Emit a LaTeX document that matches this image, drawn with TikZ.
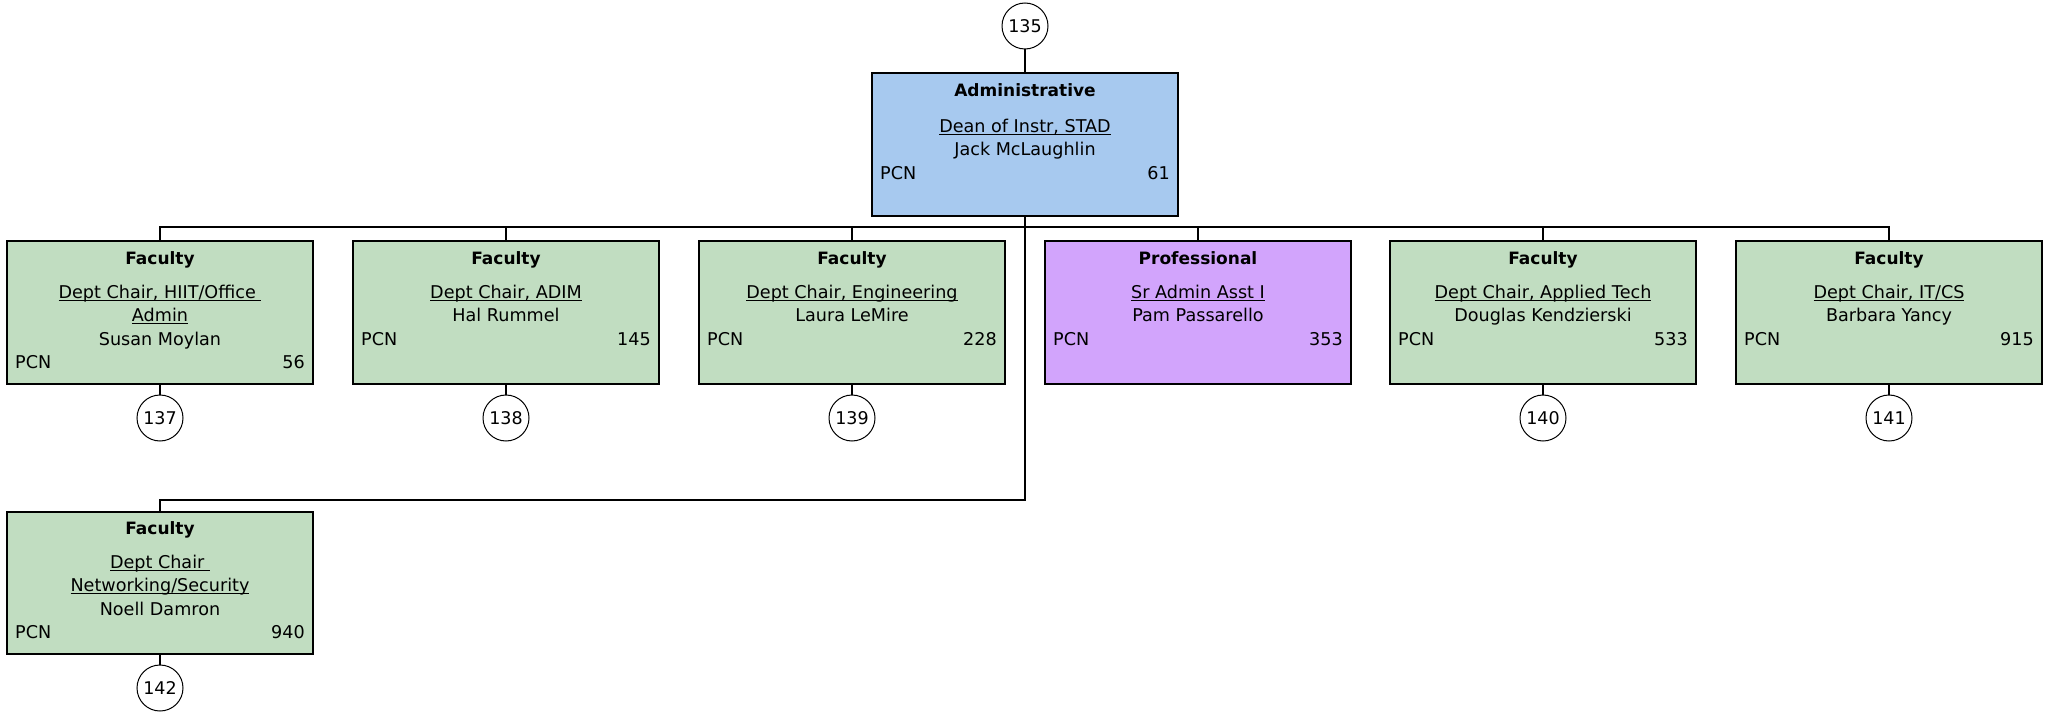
\documentclass[tikz,border=0pt]{standalone}
\usepackage{fontspec}
\setmainfont{DejaVu Sans}
\definecolor{admblue}{RGB}{167,201,239}
\definecolor{facgreen}{RGB}{193,221,193}
\definecolor{profpurple}{RGB}{210,164,252}
\newcommand\ulx[1]{\setbox0\hbox{#1}\rlap{\rule[-2.4bp]{\wd0}{1.1bp}}\box0}
\tikzset{
  orgbox/.style={draw=black, line width=2bp, minimum width=306bp, minimum height=142bp, inner sep=0pt},
  numcirc/.style={circle, draw=black, line width=1bp, fill=white, minimum size=46bp, inner sep=0pt, font=\fontsize{17.5bp}{19bp}\selectfont},
  ttl/.style={anchor=base, inner sep=0pt, font=\fontsize{17bp}{20bp}\selectfont\bfseries},
  txt/.style={anchor=base, inner sep=0pt, font=\fontsize{17.6bp}{20bp}\selectfont},
  lft/.style={anchor=base west, inner sep=0pt, font=\fontsize{17.6bp}{20bp}\selectfont},
  rgt/.style={anchor=base east, inner sep=0pt, font=\fontsize{17.6bp}{20bp}\selectfont},
  conn/.style={line width=2bp},
  stem/.style={line width=2bp}
}
\begin{document}
\begin{tikzpicture}[x=1bp,y=-1bp]
\useasboundingbox (0,0) rectangle (2049,720);
% boxes
\node[orgbox, fill=admblue, minimum height=143bp] (adm) at (1025,144.5) {};
\node[orgbox, fill=facgreen] (f1) at (160,312.5) {};
\node[orgbox, fill=facgreen] (f2) at (506,312.5) {};
\node[orgbox, fill=facgreen] (f3) at (852,312.5) {};
\node[orgbox, fill=profpurple] (p4) at (1198,312.5) {};
\node[orgbox, fill=facgreen] (f5) at (1543,312.5) {};
\node[orgbox, fill=facgreen] (f6) at (1889,312.5) {};
\node[orgbox, fill=facgreen] (f7) at (160,582.5) {};
% circles
\node[numcirc] (c135) at (1025,26) {135};
\node[numcirc] (c137) at (160,418) {137};
\node[numcirc] (c138) at (506,418) {138};
\node[numcirc] (c139) at (852,418) {139};
\node[numcirc] (c140) at (1543,418) {140};
\node[numcirc] (c141) at (1889,418) {141};
\node[numcirc] (c142) at (160,688) {142};
% connectors
\draw[conn] (c135) -- (adm.north);
\draw[conn] (f1.north) -- ++(0,-13) coordinate (busl) -| (f6.north);
\draw[conn] (f2.north) -- (f2.north |- busl);
\draw[conn] (f3.north) -- (f3.north |- busl);
\draw[conn] (p4.north) -- (p4.north |- busl);
\draw[conn] (f5.north) -- (f5.north |- busl);
\draw[conn] (adm.south) -- ++(0,283) -| (f7.north);
\draw[stem] (f1.south) -- (c137);
\draw[stem] (f2.south) -- (c138);
\draw[stem] (f3.south) -- (c139);
\draw[stem] (f5.south) -- (c140);
\draw[stem] (f6.south) -- (c141);
\draw[stem] (f7.south) -- (c142);
% texts: admin
\node[ttl] (adm-t) at ([yshift=-25bp]adm.north) {Administrative};
\node[txt] (adm-a) at ([yshift=-60.5bp]adm.north) {\ulx{Dean of Instr, STAD}};
\node[txt] (adm-b) at ([yshift=-84bp]adm.north) {Jack McLaughlin};
\node[lft] (adm-p) at ([xshift=9bp,yshift=-107bp]adm.north west) {PCN};
\node[rgt] (adm-n) at ([xshift=-9bp,yshift=-107bp]adm.north east) {61};
% f1
\node[ttl] (f1-t) at ([yshift=-23.5bp]f1.north) {Faculty};
\node[txt] (f1-a) at ([yshift=-58bp]f1.north) {\ulx{Dept Chair, HIIT/Office\ }};
\node[txt] (f1-b) at ([yshift=-81.4bp]f1.north) {\ulx{Admin}};
\node[txt] (f1-c) at ([yshift=-104.8bp]f1.north) {Susan Moylan};
\node[lft] (f1-p) at ([xshift=9bp,yshift=-128.2bp]f1.north west) {PCN};
\node[rgt] (f1-n) at ([xshift=-9bp,yshift=-128.2bp]f1.north east) {56};
% f2
\node[ttl] (f2-t) at ([yshift=-23.5bp]f2.north) {Faculty};
\node[txt] (f2-a) at ([yshift=-58bp]f2.north) {\ulx{Dept Chair, ADIM}};
\node[txt] (f2-b) at ([yshift=-81.4bp]f2.north) {Hal Rummel};
\node[lft] (f2-p) at ([xshift=9bp,yshift=-104.8bp]f2.north west) {PCN};
\node[rgt] (f2-n) at ([xshift=-9bp,yshift=-104.8bp]f2.north east) {145};
% f3
\node[ttl] (f3-t) at ([yshift=-23.5bp]f3.north) {Faculty};
\node[txt] (f3-a) at ([yshift=-58bp]f3.north) {\ulx{Dept Chair, Engineering}};
\node[txt] (f3-b) at ([yshift=-81.4bp]f3.north) {Laura LeMire};
\node[lft] (f3-p) at ([xshift=9bp,yshift=-104.8bp]f3.north west) {PCN};
\node[rgt] (f3-n) at ([xshift=-9bp,yshift=-104.8bp]f3.north east) {228};
% p4
\node[ttl] (p4-t) at ([yshift=-23.5bp]p4.north) {Professional};
\node[txt] (p4-a) at ([yshift=-58bp]p4.north) {\ulx{Sr Admin Asst I}};
\node[txt] (p4-b) at ([yshift=-81.4bp]p4.north) {Pam Passarello};
\node[lft] (p4-p) at ([xshift=9bp,yshift=-104.8bp]p4.north west) {PCN};
\node[rgt] (p4-n) at ([xshift=-9bp,yshift=-104.8bp]p4.north east) {353};
% f5
\node[ttl] (f5-t) at ([yshift=-23.5bp]f5.north) {Faculty};
\node[txt] (f5-a) at ([yshift=-58bp]f5.north) {\ulx{Dept Chair, Applied Tech}};
\node[txt] (f5-b) at ([yshift=-81.4bp]f5.north) {Douglas Kendzierski};
\node[lft] (f5-p) at ([xshift=9bp,yshift=-104.8bp]f5.north west) {PCN};
\node[rgt] (f5-n) at ([xshift=-9bp,yshift=-104.8bp]f5.north east) {533};
% f6
\node[ttl] (f6-t) at ([yshift=-23.5bp]f6.north) {Faculty};
\node[txt] (f6-a) at ([yshift=-58bp]f6.north) {\ulx{Dept Chair, IT/CS}};
\node[txt] (f6-b) at ([yshift=-81.4bp]f6.north) {Barbara Yancy};
\node[lft] (f6-p) at ([xshift=9bp,yshift=-104.8bp]f6.north west) {PCN};
\node[rgt] (f6-n) at ([xshift=-9bp,yshift=-104.8bp]f6.north east) {915};
% f7
\node[ttl] (f7-t) at ([yshift=-23.5bp]f7.north) {Faculty};
\node[txt] (f7-a) at ([yshift=-58bp]f7.north) {\ulx{Dept Chair\ }};
\node[txt] (f7-b) at ([yshift=-81.4bp]f7.north) {\ulx{Networking/Security}};
\node[txt] (f7-c) at ([yshift=-104.8bp]f7.north) {Noell Damron};
\node[lft] (f7-p) at ([xshift=9bp,yshift=-128.2bp]f7.north west) {PCN};
\node[rgt] (f7-n) at ([xshift=-9bp,yshift=-128.2bp]f7.north east) {940};
\end{tikzpicture}
\end{document}
